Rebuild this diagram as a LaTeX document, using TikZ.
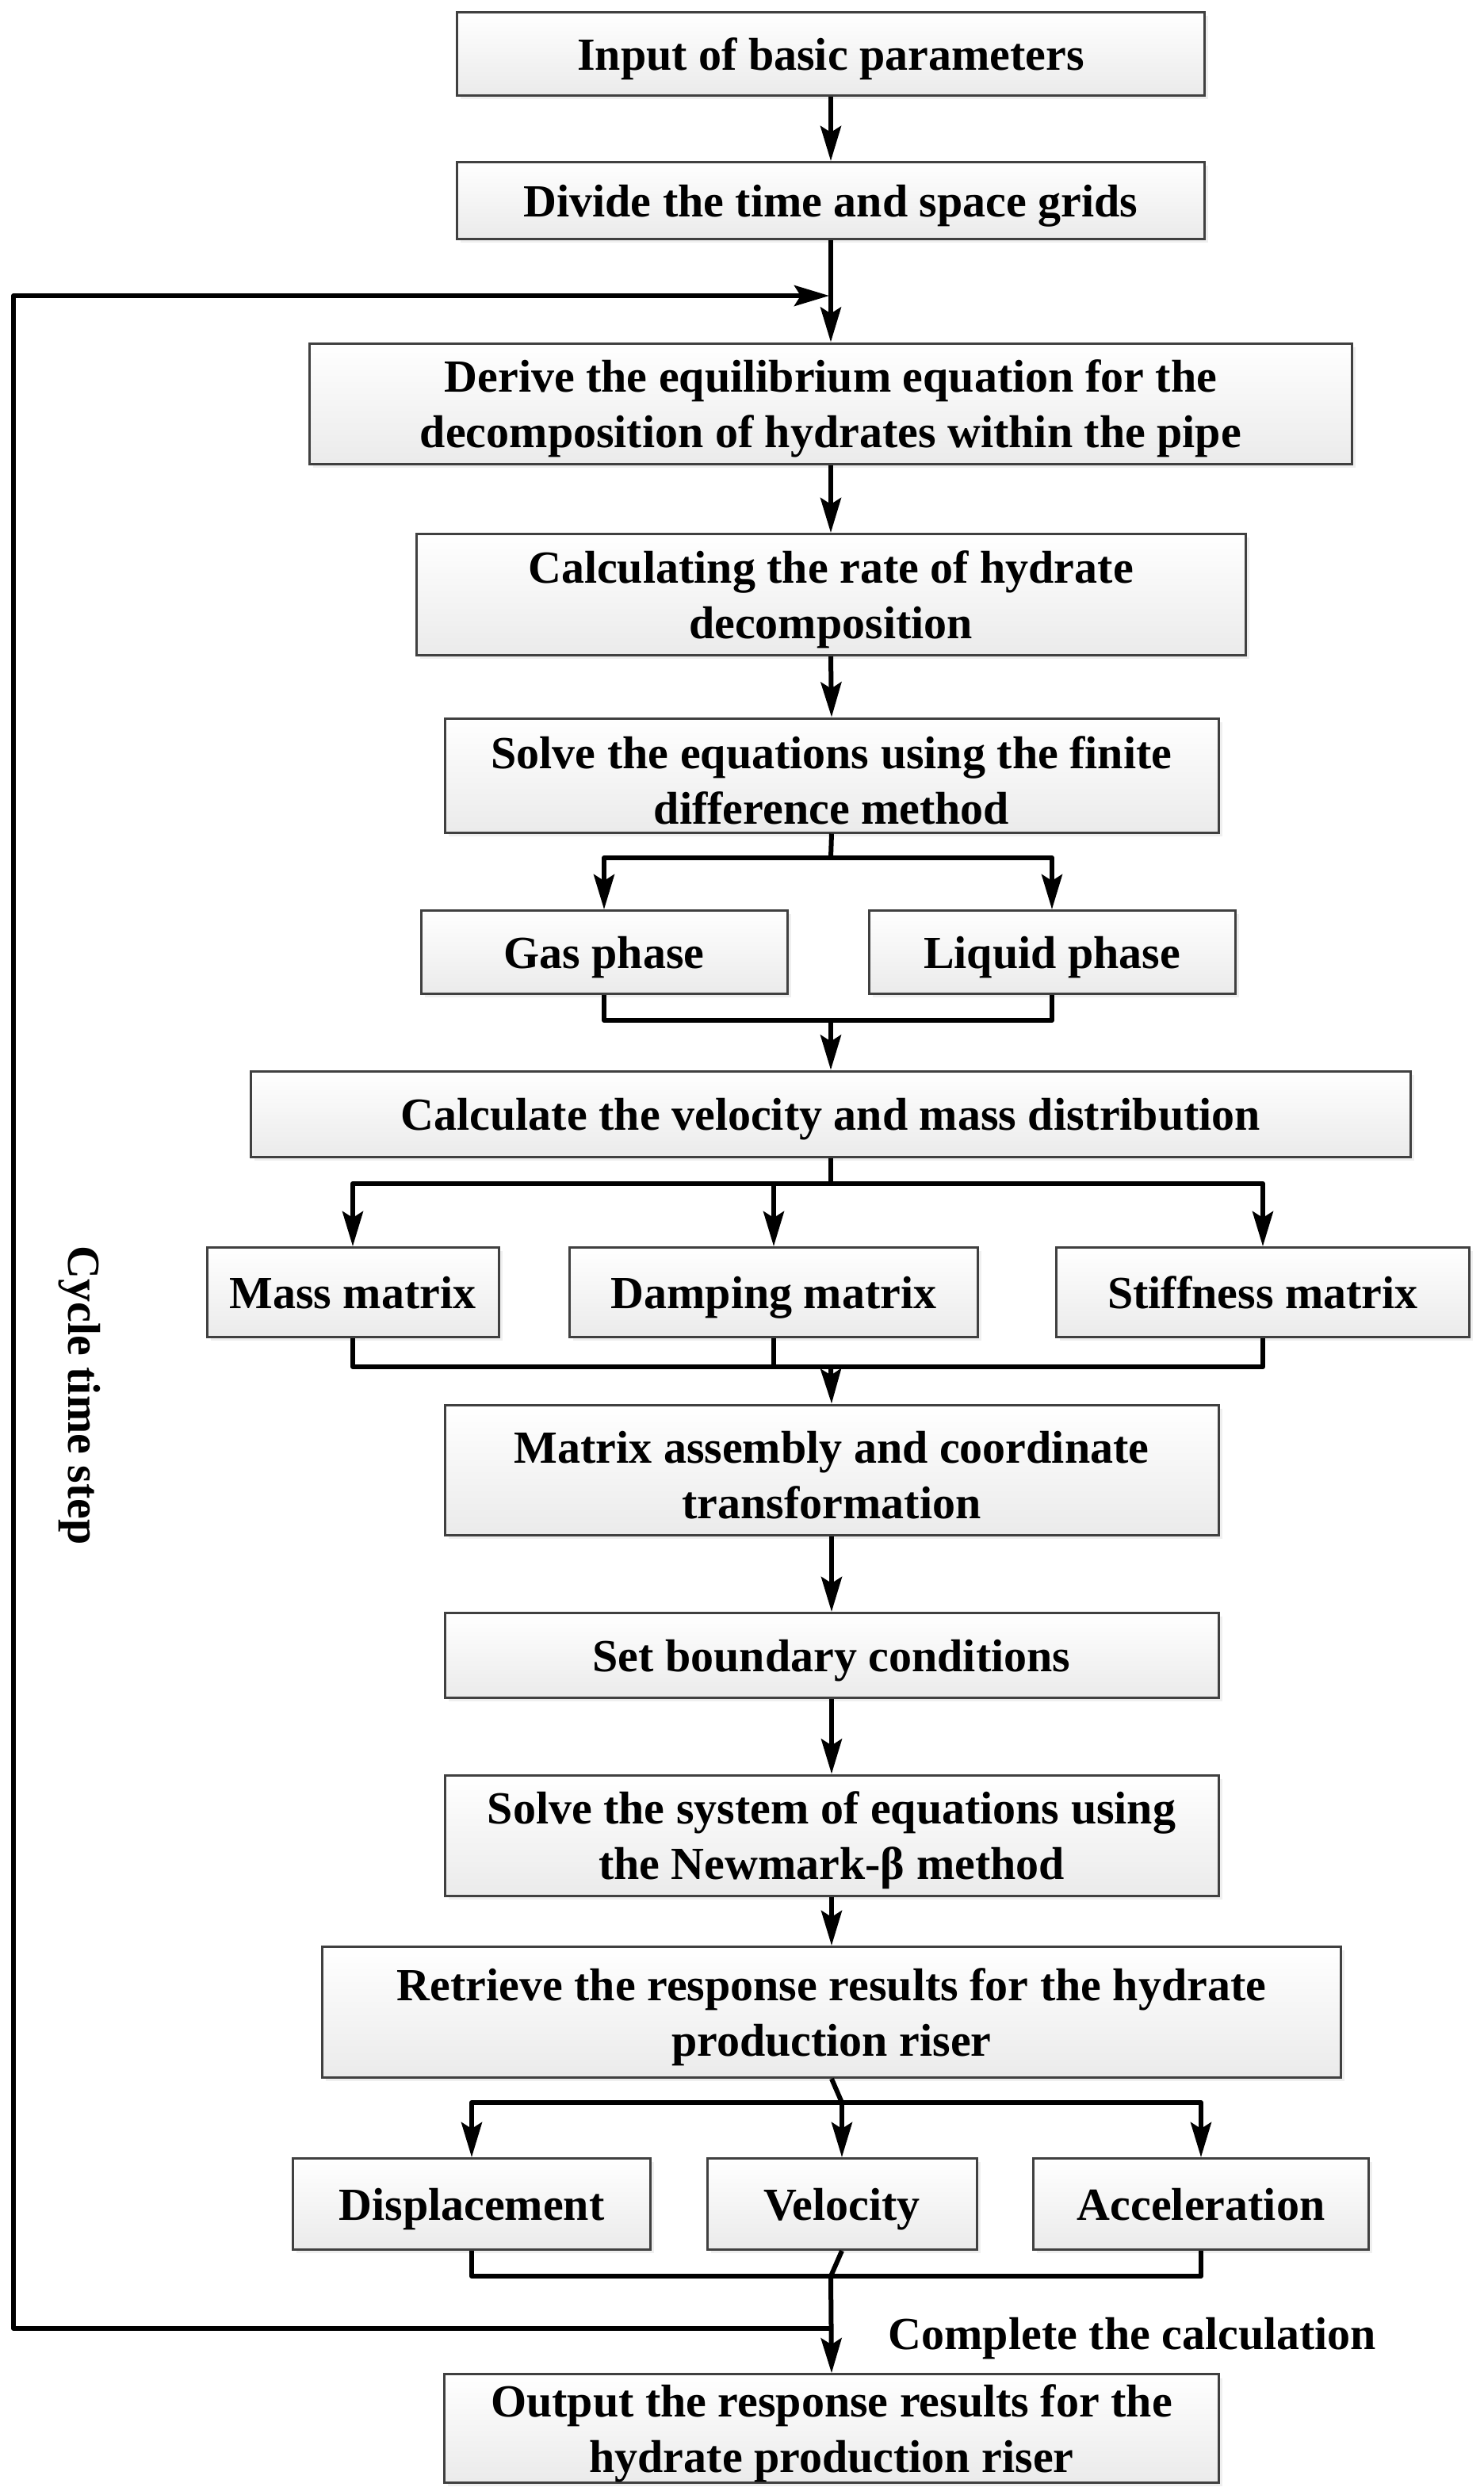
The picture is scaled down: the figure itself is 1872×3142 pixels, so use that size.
\documentclass[tikz,border=0pt]{standalone}
\usepackage{fontspec}
\setmainfont{Liberation Serif}
\usetikzlibrary{arrows.meta,shadows}
\newcommand\lnup{\rule{0pt}{13.5pt}}
\begin{document}
\begin{tikzpicture}[x=0.25pt,y=-0.25pt,
  box/.style={draw=black!75,line width=0.75pt,top color=white,bottom color=black!8,
    inner sep=0pt,align=center,font=\fontsize{14.5pt}{17.5pt}\selectfont\bfseries,
    drop shadow={shadow xshift=1.2pt,shadow yshift=-1.2pt,fill=black!12}},
  one/.style={text height=12pt,text depth=2pt},
  conn/.style={line width=1.5pt,line join=round},
  arr/.style={conn,-{Stealth[length=11pt,width=6.5pt,inset=2pt]}},
  lbl/.style={font=\fontsize{14.5pt}{17.5pt}\selectfont\bfseries,inner sep=0pt}]
\useasboundingbox[fill=white] (0,0) rectangle (1872,3142);

\node[box,one,minimum width=235.75pt,minimum height=26.25pt] (b1) at (1048,68) {Input of basic parameters};
\node[box,one,minimum width=235.75pt,minimum height=24.25pt] (b2) at (1048,253) {Divide the time and space grids};
\node[box,minimum width=328.75pt,minimum height=38pt] (b3) at (1048,509) {\lnup Derive the equilibrium equation for the\\decomposition of hydrates within the pipe};
\node[box,minimum width=261.5pt,minimum height=38.25pt] (b4) at (1048,750) {\lnup Calculating the rate of hydrate\\decomposition};
\node[box,minimum width=244pt,minimum height=36pt] (b5) at (1049,978) {\lnup Solve the equations using the finite\\difference method};
\node[box,one,minimum width=115.5pt,minimum height=26.25pt] (gas) at (762,1201) {Gas phase};
\node[box,one,minimum width=115.5pt,minimum height=26.25pt] (liq) at (1327,1201) {Liquid phase};
\node[box,one,minimum width=365.75pt,minimum height=27pt] (b6) at (1048,1405) {Calculate the velocity and mass distribution};
\node[box,one,minimum width=92pt,minimum height=28.25pt] (mass) at (445,1630) {Mass matrix};
\node[box,one,minimum width=128.75pt,minimum height=28.25pt] (damp) at (976,1630) {Damping matrix};
\node[box,one,minimum width=130.25pt,minimum height=28.25pt] (stiff) at (1593,1630) {Stiffness matrix};
\node[box,minimum width=244pt,minimum height=41pt] (b7) at (1049,1854) {\lnup Matrix assembly and coordinate\\transformation};
\node[box,one,minimum width=244pt,minimum height=26.75pt] (b8) at (1049,2088) {Set boundary conditions};
\node[box,minimum width=244pt,minimum height=38pt] (b9) at (1049,2315) {\lnup Solve the system of equations using\\the Newmark-β method};
\node[box,minimum width=321.25pt,minimum height=41.25pt] (b10) at (1049,2538) {\lnup Retrieve the response results for the hydrate\\production riser};
\node[box,one,minimum width=112.75pt,minimum height=28.75pt] (disp) at (595,2780) {Displacement};
\node[box,one,minimum width=85pt,minimum height=28.75pt] (vel) at (1062,2780) {Velocity};
\node[box,one,minimum width=105.75pt,minimum height=28.75pt] (acc) at (1515,2780) {Acceleration};
\node[box,minimum width=244.25pt,minimum height=33pt] (out) at (1049,3063) {\lnup Output the response results for the\\hydrate production riser};

\node[lbl,anchor=west] (done) at (1120,2950) {Complete the calculation};
\node[lbl,rotate=-90] (cyc) at (100,1760) {Cycle time step};

% main chain
\draw[arr] (b1.south) -- (b2.north);
\draw[arr] (b2.south) -- (b3.north);
\draw[arr] (b3.south) -- (b4.north);
\draw[arr] (b4.south) -- (b5.north);

% gas / liquid split
\coordinate (s1) at (1048,1082);
\draw[conn] (b5.south) -- (s1);
\draw[arr] (s1) -| (gas.north);
\draw[arr] (s1) -| (liq.north);
\coordinate (m1) at (1048,1287);
\draw[conn] (gas.south) |- (m1);
\draw[conn] (liq.south) |- (m1);
\draw[arr] (m1) -- (b6.north);

% matrices split
\coordinate (s2) at (1048,1493);
\draw[conn] (b6.south) -- (s2);
\draw[arr] (s2) -| (mass.north);
\draw[arr] (s2) -| (stiff.north);
\draw[arr] (damp.north |- s2) -- (damp.north);
\coordinate (m2) at (1048,1724);
\draw[conn] (mass.south) |- (m2);
\draw[conn] (stiff.south) |- (m2);
\draw[conn] (damp.south) -- (damp.south |- m2);
\draw[arr] (m2) -- (b7.north);

\draw[arr] (b7.south) -- (b8.north);
\draw[arr] (b8.south) -- (b9.north);
\draw[arr] (b9.south) -- (b10.north);

% results split
\coordinate (s3) at (1062,2652);
\draw[conn] (b10.south) -- (s3);
\draw[arr] (s3) -| (disp.north);
\draw[arr] (s3) -| (acc.north);
\draw[arr] (s3) -- (vel.north);
\coordinate (m3) at (1048,2871);
\draw[conn] (disp.south) |- (m3);
\draw[conn] (acc.south) |- (m3);
\draw[conn] (vel.south) -- (m3);
\draw[arr] (m3) -- (out.north);

% cycle loop
\coordinate (lb) at (1048,2937);
\coordinate (lt) at (1046,373);
\draw[arr] (lb) -- (17,2937) -- (17,373) -- (lt);
\end{tikzpicture}
\end{document}
